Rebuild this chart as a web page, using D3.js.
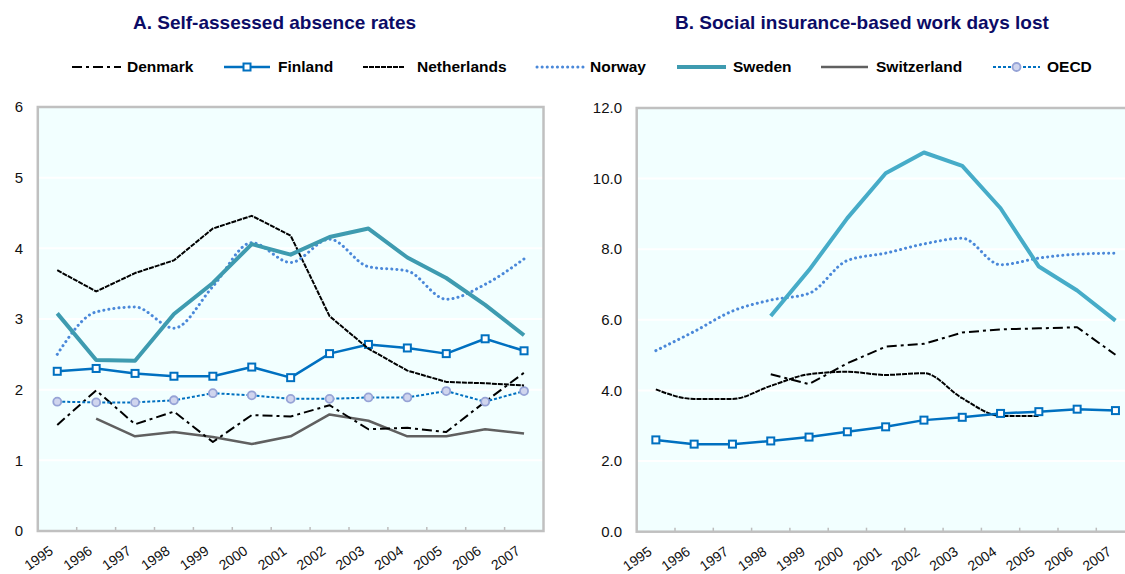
<!DOCTYPE html>
<html><head><meta charset="utf-8">
<script src="https://cdn.jsdelivr.net/npm/d3@7"></script>
<style>body{margin:0;background:#fff}svg{display:block;font-family:Arial,"Liberation Sans",sans-serif}</style>
</head><body><svg id="c" width="1125" height="574"></svg>
<script>
const years = ['1995','1996','1997','1998','1999','2000','2001','2002','2003','2004','2005','2006','2007'];
const seriesNames = ['Denmark','Finland','Netherlands','Norway','Sweden','Switzerland','OECD'];
// Panel A: self-assessed absence rates
const denmarkA     = [1.50,1.99,1.51,1.69,1.26,1.64,1.62,1.78,1.44,1.46,1.40,1.83,2.24];
const finlandA     = [2.26,2.30,2.23,2.19,2.19,2.32,2.17,2.51,2.64,2.59,2.51,2.72,2.55];
const netherlandsA = [3.69,3.39,3.65,3.83,4.28,4.46,4.18,3.04,2.58,2.27,2.11,2.09,2.06];
const norwayA      = [2.50,3.10,3.17,2.87,3.46,4.08,3.80,4.13,3.74,3.68,3.28,3.49,3.85];
const swedenA      = [3.08,2.42,2.41,3.07,3.51,4.06,3.91,4.16,4.28,3.87,3.58,3.20,2.77];
const switzerlandA = [null,1.59,1.34,1.40,1.33,1.23,1.34,1.65,1.56,1.34,1.34,1.44,1.38];
const oecdA        = [1.83,1.82,1.82,1.85,1.95,1.92,1.87,1.87,1.89,1.89,1.98,1.83,1.98];
// Panel B: social insurance-based work days lost
const denmarkB     = [null,null,null,4.46,4.18,4.77,5.24,5.32,5.64,5.73,5.76,5.79,5.01];
const finlandB     = [2.60,2.48,2.48,2.57,2.68,2.83,2.97,3.16,3.24,3.35,3.40,3.47,3.43];
const netherlandsB = [4.03,3.76,3.76,4.13,4.46,4.53,4.44,4.49,3.78,3.28,3.28,null,null];
const norwayB      = [5.13,5.67,6.25,6.56,6.75,7.68,7.89,8.15,8.31,7.56,7.75,7.86,7.89];
const swedenB      = [null,null,null,6.11,7.41,8.88,10.15,10.74,10.36,9.16,7.51,6.83,5.98];
const ticksA = [0,1,2,3,4,5,6];
const ticksB = [0,2,4,6,8,10,12];
const titleA = 'A. Self-assessed absence rates';
const titleB = 'B. Social insurance-based work days lost';

const styles = {
  Denmark:     {color:'#000', width:2, dash:'10,4,3,4', cap:'butt'},
  Finland:     {color:'#0070c0', width:2.5, dash:null, marker:'square'},
  Netherlands: {color:'#000', width:2, dash:'5,1', cap:'butt'},
  Norway:      {color:'#4a88d9', width:3, dash:'0.1,5', cap:'round', smooth:true},
  Sweden:      {color:'#3e9bb0', width:4, dash:null},
  Switzerland: {color:'#606060', width:2.5, dash:null},
  OECD:        {color:'#0070c0', width:2, dash:'3,2', marker:'circle'}
};

const svg = d3.select('#c');

function panel(cfg){
  const g = svg.append('g');
  const x = d3.scaleBand().domain(years).range([cfg.x0, cfg.x1]);
  const y = d3.scaleLinear().domain([cfg.ticks[0], cfg.ticks[cfg.ticks.length-1]]).range([cfg.yb, cfg.yt]);
  g.append('rect').attr('x',cfg.x0).attr('y',cfg.yt).attr('width',cfg.x1-cfg.x0).attr('height',cfg.yb-cfg.yt).attr('fill','#f2ffff');
  g.selectAll('.grid').data(cfg.ticks.slice(1,-1)).join('line')
    .attr('x1',cfg.x0).attr('x2',cfg.x1).attr('y1',d=>y(d)).attr('y2',d=>y(d))
    .attr('stroke','#fff').attr('stroke-width',2);
  g.selectAll('.xt').data(years.slice(1)).join('line')
    .attr('x1',d=>x(d)).attr('x2',d=>x(d)).attr('y1',cfg.yb).attr('y2',cfg.yb-4)
    .attr('stroke','#bdbdbd').attr('stroke-width',1.5);
  g.append('rect').attr('x',cfg.x0).attr('y',cfg.yt).attr('width',cfg.x1-cfg.x0).attr('height',cfg.yb-cfg.yt)
    .attr('fill','none').attr('stroke','#c0c0c0').attr('stroke-width',2.5);
  g.selectAll('.yl').data(cfg.ticks).join('text')
    .attr('x',cfg.ylx).attr('y',d=>y(d)).attr('dy','0.35em').attr('text-anchor','end')
    .attr('font-size',15).attr('fill','#111').text(d=>cfg.fmt(d));
  g.selectAll('.xl').data(years).join('text')
    .attr('transform',d=>`translate(${x(d)+x.bandwidth()/2-3},${cfg.yb+22}) rotate(-35)`)
    .attr('text-anchor','end').attr('font-size',14).attr('fill','#111').text(d=>d);
  g.append('text').attr('x',cfg.tx).attr('y',29).attr('font-size',19).attr('font-weight','bold')
    .attr('fill','#0b0b66').text(cfg.title);
  const cx = d => x(d)+x.bandwidth()/2;
  cfg.series.forEach(s=>{
    const st = Object.assign({}, styles[s.name], s.override||{});
    const pts = years.map((yr,i)=>({yr, v:s.values[i]}));
    const line = d3.line().defined(d=>d.v!=null).x(d=>cx(d.yr)).y(d=>y(d.v))
      .curve(st.smooth||s.smooth ? d3.curveMonotoneX : d3.curveLinear);
    g.append('path').attr('d',line(pts)).attr('fill','none').attr('stroke',st.color)
      .attr('stroke-width',st.width).attr('stroke-dasharray',st.dash)
      .attr('stroke-linecap',st.cap||'butt').attr('stroke-linejoin','round');
    const valid = pts.filter(d=>d.v!=null);
    if(st.marker==='square'){
      g.selectAll(null).data(valid).join('rect')
        .attr('x',d=>cx(d.yr)-3.5).attr('y',d=>y(d.v)-3.5).attr('width',7).attr('height',7)
        .attr('fill','#fff').attr('stroke','#0070c0').attr('stroke-width',2);
    } else if(st.marker==='circle'){
      g.selectAll(null).data(valid).join('circle')
        .attr('cx',d=>cx(d.yr)).attr('cy',d=>y(d.v)).attr('r',4)
        .attr('fill','#d0d5ee').attr('stroke','#96a3d6').attr('stroke-width',1.8);
    }
  });
}

panel({x0:37.8, x1:543.5, yt:107, yb:531, ticks:ticksA, ylx:23, fmt:d=>d, tx:133, title:titleA,
  series:[
    {name:'Switzerland', values:switzerlandA},
    {name:'Denmark', values:denmarkA},
    {name:'OECD', values:oecdA},
    {name:'Finland', values:finlandA},
    {name:'Netherlands', values:netherlandsA},
    {name:'Norway', values:norwayA},
    {name:'Sweden', values:swedenA}
  ]});
panel({x0:636.7, x1:1134.6, yt:108, yb:531.7, ticks:ticksB, ylx:622, fmt:d=>d.toFixed(1), tx:675, title:titleB,
  series:[
    {name:'Denmark', values:denmarkB},
    {name:'Netherlands', values:netherlandsB, smooth:true},
    {name:'Finland', values:finlandB},
    {name:'Norway', values:norwayB},
    {name:'Sweden', values:swedenB, override:{color:'#46acc8'}}
  ]});

// legend
const legendPos = [
  {x1:72,x2:121,tx:127},{x1:224,x2:270,tx:278},{x1:363,x2:405,tx:417},{x1:537,x2:583,tx:590},
  {x1:677,x2:726,tx:733},{x1:821,x2:868,tx:876},{x1:993,x2:1040,tx:1047}
];
const lg = svg.append('g');
seriesNames.forEach((n,i)=>{
  const p = legendPos[i], st = styles[n], ly = 67;
  lg.append('line').attr('x1',p.x1).attr('x2',p.x2).attr('y1',ly).attr('y2',ly)
    .attr('stroke',st.color).attr('stroke-width',st.width).attr('stroke-dasharray',st.dash)
    .attr('stroke-linecap',st.cap||'butt');
  const m = (p.x1+p.x2)/2;
  if(st.marker==='square') lg.append('rect').attr('x',m-3.5).attr('y',ly-3.5).attr('width',7).attr('height',7)
      .attr('fill','#fff').attr('stroke','#0070c0').attr('stroke-width',2);
  if(st.marker==='circle') lg.append('circle').attr('cx',m).attr('cy',ly).attr('r',4)
      .attr('fill','#d0d5ee').attr('stroke','#96a3d6').attr('stroke-width',1.8);
  lg.append('text').attr('x',p.tx).attr('y',ly).attr('dy','0.35em').attr('font-size',15.5)
    .attr('font-weight','bold').attr('fill','#000').text(n);
});
</script></body></html>
